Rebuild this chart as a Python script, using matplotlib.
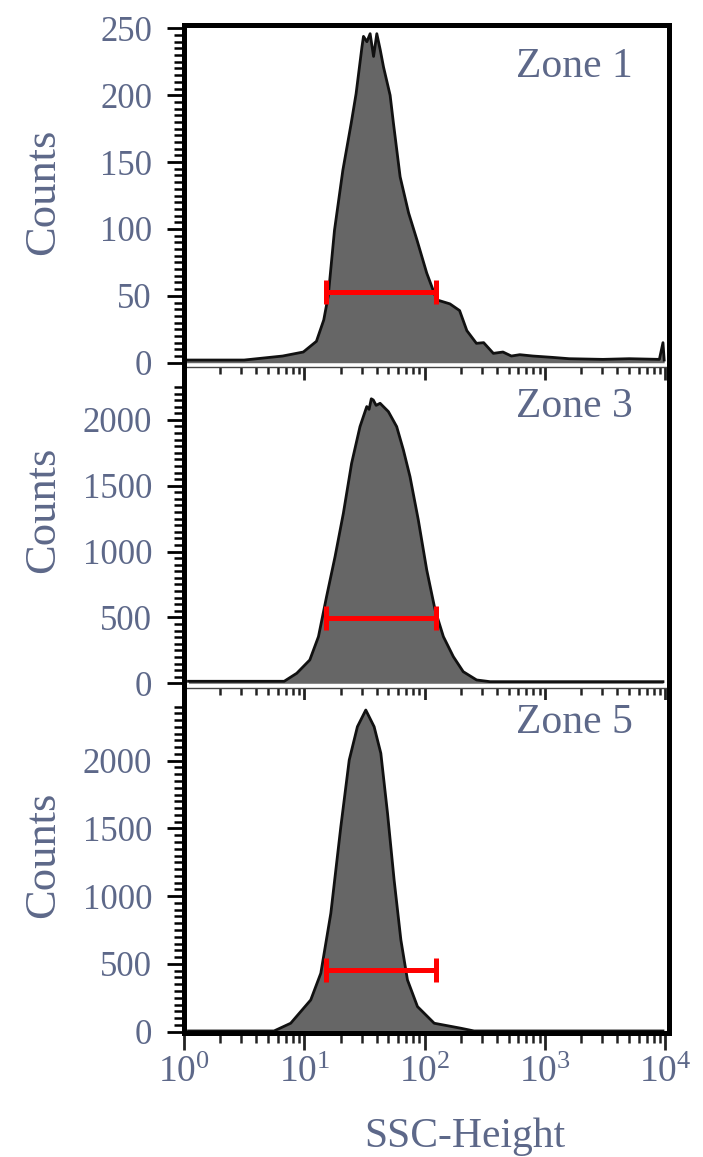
import numpy as np
import matplotlib
matplotlib.use("Agg")
import matplotlib.pyplot as plt
from matplotlib.ticker import LogLocator, MultipleLocator, NullFormatter
from matplotlib.patches import Rectangle

plt.rcParams["font.family"] = ["Liberation Serif", "DejaVu Serif"]
plt.rcParams["mathtext.fontset"] = "custom"
plt.rcParams["mathtext.rm"] = "Liberation Serif"
plt.rcParams["mathtext.it"] = "Liberation Serif:italic"
plt.rcParams["mathtext.bf"] = "Liberation Serif:bold"

# SSC-Height histograms (SSC value, counts) for each zone
zone1_ssc = [1.05, 3.16, 6.6, 9.8, 12.6, 14.5, 15.8, 17.8, 20.9, 24.5, 26.9,
             30.1, 31.0, 33.1, 35.2, 37.6, 40.0, 42.7, 45.5, 51.6, 55.0, 62.5,
             73.5, 86.1, 104, 126, 162, 195, 224, 269, 309, 372, 447, 525,
             617, 794, 1148, 1585, 3020, 5012, 8913, 9550, 9772]
zone1_cnt = [2, 2, 5, 8, 16, 32, 50, 99, 144, 179, 201,
             236, 244, 240, 246, 229, 246, 234, 221, 200, 179, 139,
             112, 92, 67, 47, 44, 39, 24, 14.5, 15, 7, 8, 5,
             6, 5, 4, 3, 2.5, 3, 2.5, 15, 2]

zone3_ssc = [1.09, 6.8, 8.65, 11.1, 13.1, 15.3, 18.0, 21.1, 24.7, 29.0, 33.0,
             34.5, 36.0, 37.4, 39.5, 42.6, 49.9, 58.5, 66.5, 75.5, 88.5, 104,
             122, 143, 173, 209, 270, 349, 9550]
zone3_cnt = [15, 15, 76, 177, 354, 658, 962, 1291, 1670, 1949, 2101,
             2080, 2160, 2151, 2110, 2126, 2063, 1949, 1772, 1569, 1240, 860,
             557, 354, 202, 88, 25, 12, 12]

zone5_ssc = [1.09, 5.6, 7.7, 11.3, 13.7, 16.6, 20.1, 23.6, 27.6, 32.4, 38.0,
             43.2, 49.1, 55.7, 63.4, 71.9, 87.1, 120, 200, 257, 9550]
zone5_cnt = [5, 5, 62, 234, 431, 874, 1513, 2005, 2251, 2374, 2251,
             2055, 1612, 1120, 677, 382, 185, 62, 25, 5, 5]

zone_names = ["Zone 1", "Zone 3", "Zone 5"]
# gated range drawn as the red bar, and the count level it sits at
gate_ssc = [15, 123]
gate_levels = [53, 494, 455]

ylims = [(-3.2, 252.5), (-36, 2280), (-10, 2448)]
y_major = [50, 500, 500]
y_minor = [5, 50, 50]

label_col = "#5d6889"

fig = plt.figure(figsize=(7.03, 11.57), dpi=100)
W, H = 703, 1157
left, right = 184, 669
boxes = [(25, 367), (383, 688), (700, 1033)]
axes = []
for top, bot in boxes:
    ax = fig.add_axes([left / W, (H - bot) / H, (right - left) / W, (bot - top) / H])
    axes.append(ax)

data = [(zone1_ssc, zone1_cnt), (zone3_ssc, zone3_cnt), (zone5_ssc, zone5_cnt)]
name_y = [0.849, 0.8895, 0.9018]
counts_y = [0.512, 0.584, 0.535]

for i, ax in enumerate(axes):
    x, c = data[i]
    ax.set_xscale("log")
    ax.set_xlim(1, 10 ** 4.03)
    ax.set_ylim(*ylims[i])
    ax.fill_between(x, c, color="#666666", lw=0)
    ax.plot(x, c, color="#111111", lw=2.0)
    ax.plot(gate_ssc, [gate_levels[i]] * 2, color="#ff0000", lw=3.6,
            marker="|", ms=17, mew=3.6, solid_capstyle="butt")

    ax.yaxis.set_major_locator(MultipleLocator(y_major[i]))
    ax.yaxis.set_minor_locator(MultipleLocator(y_minor[i]))
    ax.xaxis.set_major_locator(LogLocator(base=10, numticks=10))
    ax.xaxis.set_minor_locator(LogLocator(base=10, subs=np.arange(2, 10), numticks=20))
    ax.xaxis.set_minor_formatter(NullFormatter())

    ax.tick_params(axis="y", which="major", direction="out", length=12, width=2.0,
                   pad=11, labelsize=25, labelcolor=label_col, color="black")
    ax.tick_params(axis="y", which="minor", direction="out", length=7, width=1.8,
                   color="black")
    ax.tick_params(axis="x", which="major", direction="out", length=9, width=2.0,
                   pad=4, labelsize=27, labelcolor=label_col, color="#222222")
    ax.tick_params(axis="x", which="minor", direction="out", length=5, width=1.8,
                   color="#222222")
    if i < 2:
        ax.tick_params(axis="x", labelbottom=False)
    else:
        ax.tick_params(axis="x", which="major", length=12)
        ax.tick_params(axis="x", which="minor", length=7)

    for s in ["left", "right", "top"]:
        ax.spines[s].set_visible(False)
    ax.spines["bottom"].set_color("#444444")
    ax.spines["bottom"].set_linewidth(1.0)

    ax.text(0.9256, name_y[i], zone_names[i], transform=ax.transAxes,
            ha="right", va="baseline", fontsize=30, color=label_col)
    ax.text(-0.291, counts_y[i], "Counts", transform=ax.transAxes, rotation=90,
            ha="center", va="center", fontsize=32, color=label_col)

axes[2].set_xlabel("SSC-Height", fontsize=30, color=label_col)
axes[2].xaxis.set_label_coords(0.58, -0.255)

# outer frame around the three stacked panels
fig.add_artist(Rectangle((left / W, (H - boxes[2][1]) / H),
                         (right - left) / W, (boxes[2][1] - boxes[0][0]) / H,
                         transform=fig.transFigure, fill=False,
                         edgecolor="black", lw=3.6, zorder=10))

fig.savefig("out.png", dpi=100, facecolor="white")
